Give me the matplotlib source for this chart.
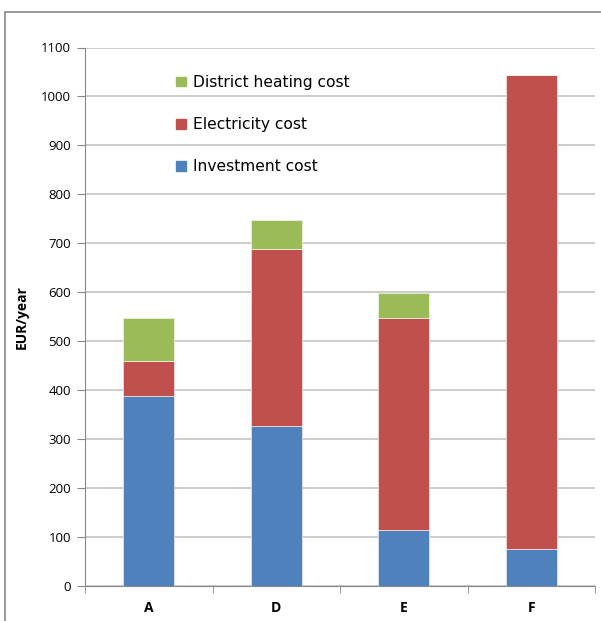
import matplotlib
matplotlib.use('Agg')
import matplotlib.pyplot as plt
from matplotlib.patches import Rectangle, Patch
import numpy as np

plt.rcParams['font.family'] = ['Open Sans', 'DejaVu Sans']

categories = ['A', 'D', 'E', 'F']
investment = [389, 326, 115, 75]
electricity = [70, 362, 432, 969]
district = [89, 60, 52, 0]

c_inv = '#4F81BD'
c_ele = '#C0504D'
c_dis = '#9BBB59'

fig = plt.figure(figsize=(6.01, 6.21), dpi=100)
# outer chart frame
fig.patches.append(Rectangle((5 / 601, -0.01), 1.0, 1 - 12 / 621 + 0.01,
                             transform=fig.transFigure, fill=False,
                             edgecolor='#888888', lw=1.2))

ax = fig.add_axes([85 / 601, 1 - 586 / 621, 510 / 601, (586 - 47.5) / 621])

x = np.arange(len(categories))
inv = np.array(investment)
ele = np.array(electricity)
dis = np.array(district)
w = 0.4
ax.bar(x, inv, w, color=c_inv, edgecolor='#dbe5f1', lw=0.6, zorder=3)
ax.bar(x, ele, w, bottom=inv, color=c_ele, edgecolor='#f2dcdb', lw=0.6, zorder=3)
ax.bar(x, dis, w, bottom=inv + ele, color=c_dis, edgecolor='#ebf1de', lw=0.6,
       zorder=3)

ax.set_xlim(-0.5, len(categories) - 0.5)
ax.set_ylim(0, 1100)
ax.set_yticks(range(0, 1101, 100))
ax.yaxis.grid(True, color='#c4c4c4', lw=1.2, zorder=0)
ax.set_xticks(x)
ax.set_xticklabels(categories, fontweight='bold', fontsize=10)
ax.set_xticks(np.arange(-0.5, len(categories)), minor=True)
ax.tick_params(axis='x', which='major', length=0, pad=11)
ax.tick_params(axis='x', which='minor', length=5, color='#888888')
ax.tick_params(axis='y', length=6, color='#888888', labelsize=9.5, pad=4)

for s in ['top', 'right']:
    ax.spines[s].set_visible(False)
for s in ['left', 'bottom']:
    ax.spines[s].set_color('#888888')

ax.set_ylabel('EUR/year', fontweight='bold', fontsize=10, labelpad=9)

handles = [Patch(color=c_dis, label='District heating cost'),
           Patch(color=c_ele, label='Electricity cost'),
           Patch(color=c_inv, label='Investment cost')]
leg = ax.legend(handles=handles, loc='upper left', bbox_to_anchor=(0.155, 0.972),
                frameon=False, prop={'family': 'DejaVu Sans', 'size': 11.2},
                handlelength=0.6, handleheight=0.6, handletextpad=0.45,
                labelspacing=1.75, borderpad=0.3)
leg.set_zorder(4)

fig.savefig('out.png', dpi=100)
